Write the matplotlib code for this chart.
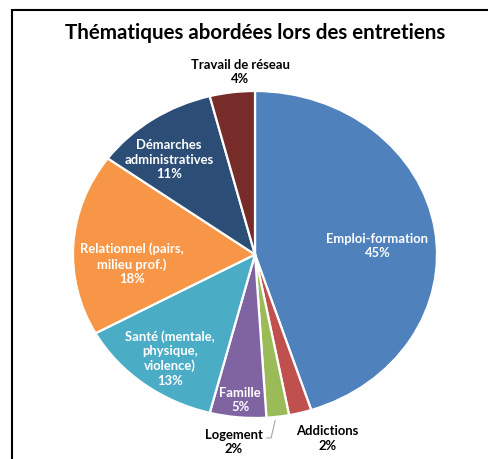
import numpy as np
import matplotlib
matplotlib.use('Agg')
import matplotlib.pyplot as plt
from matplotlib.patches import Rectangle

# Données : thématiques abordées (en %)
themes = ['Emploi-formation', 'Addictions', 'Logement', 'Famille',
          'Santé (mentale,\nphysique,\nviolence)', 'Relationnel (pairs,\nmilieu prof.)',
          'Démarches\nadministratives', 'Travail de réseau']
parts = [45, 2, 2, 5, 13, 18, 11, 4]
couleurs = ['#4F81BD', '#C0504D', '#9BBB59', '#8064A2',
            '#4BACC6', '#F79646', '#2C4D75', '#772C2A']

# placement des étiquettes (unités du camembert, rayon = 1)
lab_xy = [(0.673, 0.052), (0.398, -1.125), (-0.115, -1.147), (-0.082, -0.890),
          (-0.467, -0.636), (-0.676, -0.058), (-0.473, 0.578), (-0.082, 1.116)]
lab_col = ['white', 'black', 'black', 'white', 'white', 'white', 'white', 'black']

plt.rcParams['font.family'] = ['Lato', 'DejaVu Sans']

W, H = 488, 459
fig = plt.figure(figsize=(W / 100, H / 100), dpi=100)
# axe étiré horizontalement (camembert elliptique)
ax = fig.add_axes([73 / W, 41 / H, 364 / W, 327 / H])

wedges, _ = ax.pie(parts, colors=couleurs, startangle=90, counterclock=False,
                   radius=1, wedgeprops=dict(edgecolor='white', linewidth=1.6))
ax.set_aspect('auto')
ax.set_xlim(-1, 1)
ax.set_ylim(-1, 1)

for i, (x, y) in enumerate(lab_xy):
    ax.text(x, y, f'{themes[i]}\n{parts[i]}%', ha='center', va='center',
            fontsize=9.4, fontweight='bold', color=lab_col[i],
            linespacing=1.25, clip_on=False)

# trait de rappel pour "Logement"
w = wedges[2]
am = np.deg2rad(0.5 * (w.theta1 + w.theta2))
ex, ey = np.cos(am), np.sin(am)
ax.plot([ex - 0.015, ex - 0.037, ex - 0.059], [ey - 0.025, ey - 0.13, ey - 0.13],
        color='#A6A6A6', lw=0.8, clip_on=False)

fig.text(255 / W, 1 - 33 / H, 'Thématiques abordées lors des entretiens',
         ha='center', va='center', fontsize=14.8, fontweight='bold')

# cadre du graphique
fig.patches.append(Rectangle((12 / W, -0.1), 1.2, 1 - 10 / H + 0.1,
                             transform=fig.transFigure, fill=False,
                             edgecolor='black', linewidth=1.5))

fig.savefig('out.png', dpi=100)
